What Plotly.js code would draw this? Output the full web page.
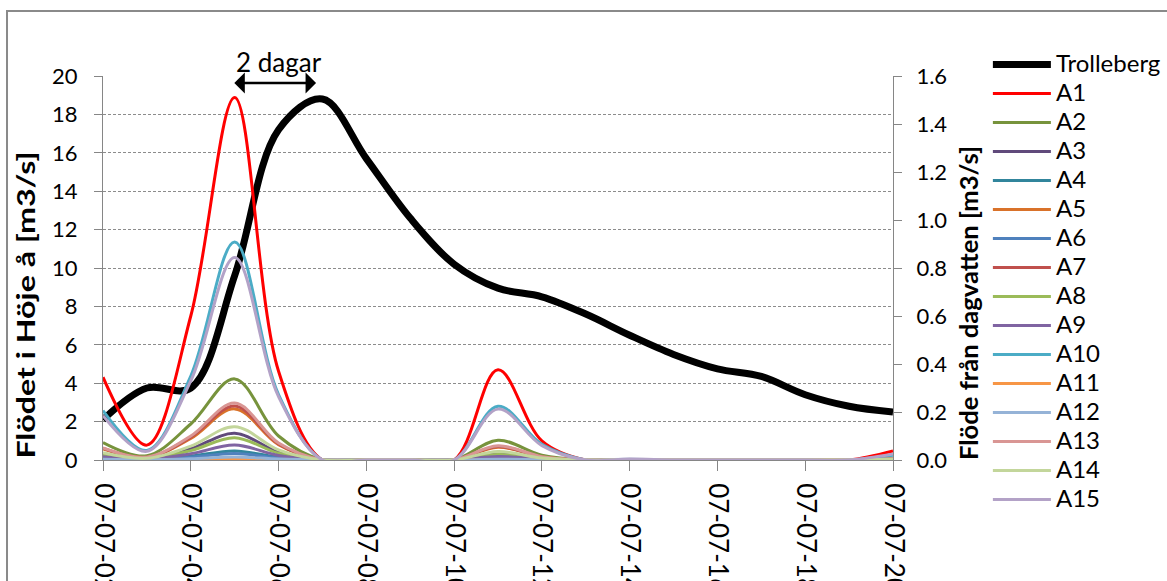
<!DOCTYPE html>
<html><head><meta charset="utf-8">
<script src="https://cdn.plot.ly/plotly-3.0.1.min.js"></script>
<style>
body{margin:0;background:#fff}
#chart{width:1167px;height:581px}
.g-ytitle,.g-y2title{transform-box:fill-box;transform-origin:center}
.g-ytitle{transform:translate(1px,37px) scale(1,1.34)}
.g-y2title{transform:translate(4px,35px) scale(1,1.066)}
.legendtext{font-size:24px !important}
</style></head><body><div id="chart"></div><script>
const dates = ['2007-07-02','2007-07-03','2007-07-04','2007-07-05','2007-07-06','2007-07-07','2007-07-08','2007-07-09','2007-07-10','2007-07-11','2007-07-12','2007-07-13','2007-07-14','2007-07-15','2007-07-16','2007-07-17','2007-07-18','2007-07-19','2007-07-20'];
const trolleberg = [2.1,3.75,3.75,9.6,17.2,18.8,15.7,12.6,10.2,8.95,8.5,7.6,6.5,5.5,4.75,4.35,3.4,2.8,2.5];
const A1  = [0.345,0.062,0.60,1.51,0.37,0,0,0,0,0.376,0.08,0,0,0,0,0,0,0,0.038];
const A2  = [0.073,0.018,0.15,0.338,0.10,0,0,0,0,0.082,0.02,0,0,0,0,0,0,0,0.007];
const A3  = [0.024,0.006,0.047,0.111,0.033,0,0,0,0,0.027,0.007,0,0,0,0,0,0,0,0.002];
const A4  = [0.008,0.002,0.016,0.038,0.011,0,0,0,0,0.009,0.002,0,0,0,0,0,0,0,0.001];
const A5  = [0.046,0.011,0.09,0.213,0.064,0,0,0,0,0.053,0.013,0,0,0,0,0,0,0,0.004];
const A6  = [0.006,0.0015,0.011,0.027,0.008,0,0,0,0,0.007,0.0016,0,0,0,0,0,0,0,0.0005];
const A7  = [0.049,0.011,0.095,0.225,0.067,0,0,0,0,0.056,0.013,0,0,0,0,0,0,0,0.0045];
const A8  = [0.02,0.005,0.039,0.093,0.028,0,0,0,0,0.023,0.006,0,0,0,0,0,0,0,0.002];
const A9  = [0.014,0.003,0.026,0.062,0.019,0,0,0,0,0.015,0.004,0,0,0,0,0,0,0,0.001];
const A10 = [0.206,0.04,0.35,0.908,0.272,0,0,0,0,0.224,0.065,0,0,0,0,0,0,0,0.02];
const A11 = [0.001,0,0.002,0.004,0.001,0,0,0,0,0.001,0,0,0,0,0,0,0,0,0];
const A12 = [0.003,0.001,0.005,0.013,0.004,0,0,0,0,0.003,0.001,0,0.003,0,0,0,0,0,0.001];
const A13 = [0.05,0.012,0.10,0.237,0.071,0,0,0,0,0.059,0.014,0,0,0,0,0,0,0,0.005];
const A14 = [0.03,0.007,0.058,0.139,0.042,0,0,0,0,0.035,0.008,0,0,0,0,0,0,0,0.003];
const A15 = [0.185,0.036,0.33,0.844,0.264,0,0,0,0,0.212,0.06,0,0.004,0,0,0,0,0,0.025];
const seriesNames = ['A1','A2','A3','A4','A5','A6','A7','A8','A9','A10','A11','A12','A13','A14','A15'];
const seriesValues = [A1,A2,A3,A4,A5,A6,A7,A8,A9,A10,A11,A12,A13,A14,A15];
const seriesColors = ['#FF0000','#77933C','#604A7B','#31859C','#D9722A','#4F81BD','#C0504D','#9BBB59','#8064A2','#4BACC6','#F79646','#95B3D7','#D99694','#C3D69B','#B3A2C7'];
const xTickVals = ['2007-07-02','2007-07-04','2007-07-06','2007-07-08','2007-07-10','2007-07-12','2007-07-14','2007-07-16','2007-07-18','2007-07-20'];
const xTickText = ['07-07-02','07-07-04','07-07-06','07-07-08','07-07-10','07-07-12','07-07-14','07-07-16','07-07-18','07-07-20'];

const FONT = 'Lato, "Open Sans", sans-serif';
const traces = [{
  x: dates, y: trolleberg, name: 'Trolleberg', type: 'scatter', mode: 'lines',
  line: {color: '#000000', width: 7, shape: 'spline', smoothing: 1}, yaxis: 'y'
}];
seriesNames.forEach((n, i) => {
  traces.push({
    x: dates, y: seriesValues[i], name: n, type: 'scatter', mode: 'lines',
    line: {color: seriesColors[i], width: 3, shape: 'spline', smoothing: 1}, yaxis: 'y2'
  });
});

const axisGray = '#868686';
const layout = {
  width: 1167, height: 581,
  margin: {l: 103, r: 274, t: 76, b: 121, autoexpand: false},
  paper_bgcolor: '#ffffff', plot_bgcolor: '#ffffff',
  font: {family: FONT, color: '#000000', size: 22},
  showlegend: true,
  legend: {x: 1.1201, xanchor: 'left', y: 1.081, yanchor: 'top', font: {family: FONT, size: 20, color: '#000'},
           bgcolor: 'rgba(0,0,0,0)', tracegroupgap: 0, itemwidth: 58, maxheight: 600},
  xaxis: {
    type: 'date', range: ['2007-07-02', '2007-07-20'],
    tickmode: 'array', tickvals: xTickVals, ticktext: xTickText, tickangle: 90,
    tickfont: {family: FONT, size: 26, color: '#000'},
    ticks: 'outside', ticklen: 10, tickcolor: axisGray, tickwidth: 1,
    showline: true, linecolor: axisGray, linewidth: 1, showgrid: false, zeroline: false,
    ticklabelstandoff: 7, automargin: false
  },
  yaxis: {
    range: [0, 20], dtick: 2, tick0: 0,
    tickfont: {family: FONT, size: 22, color: '#000'},
    ticks: 'outside', ticklen: 8, tickcolor: axisGray, tickwidth: 1,
    showline: true, linecolor: axisGray, linewidth: 1,
    showgrid: true, gridcolor: '#8c8c8c', gridwidth: 1, griddash: '3px,2px',
    zeroline: false, ticklabelstandoff: 12, automargin: false,
    title: {text: 'Flödet i Höje å [m3/s]', font: {family: FONT, size: 24, color: '#000', weight: 'bold'}, standoff: 10}
  },
  yaxis2: {
    overlaying: 'y', side: 'right', range: [0, 1.6], dtick: 0.2, tick0: 0, tickformat: '.1f',
    tickfont: {family: FONT, size: 22, color: '#000'},
    ticks: 'outside', ticklen: 8, tickcolor: axisGray, tickwidth: 1,
    showline: true, linecolor: axisGray, linewidth: 1, showgrid: false, zeroline: false,
    ticklabelstandoff: 10, automargin: false,
    title: {text: 'Flöde från dagvatten [m3/s]', font: {family: FONT, size: 24, color: '#000', weight: 'bold'}, standoff: 10}
  },
  shapes: [{
    type: 'rect', xref: 'paper', yref: 'paper', x0: -0.1215, x1: 1.6, y0: -1, y1: 1.169,
    line: {color: '#8a8a8a', width: 2}, fillcolor: 'rgba(0,0,0,0)', layer: 'above'
  }],
  annotations: [
    {xref: 'x', yref: 'y', axref: 'x', ayref: 'y', x: '2007-07-06 20:30', y: 19.63, ax: '2007-07-04 23:00', ay: 19.63,
     text: '', showarrow: true, arrowside: 'end+start', arrowhead: 1, arrowsize: 1.4, arrowwidth: 2.5, arrowcolor: '#000', standoff: 0, startstandoff: 0},
    {xref: 'x', yref: 'paper', x: '2007-07-06 00:30', y: 1.036, text: '2 dagar', showarrow: false,
     xanchor: 'center', yanchor: 'middle', font: {family: FONT, size: 26, color: '#000'}}
  ]
};
Plotly.newPlot('chart', traces, layout, {displayModeBar: false, staticPlot: true});
</script></body></html>
